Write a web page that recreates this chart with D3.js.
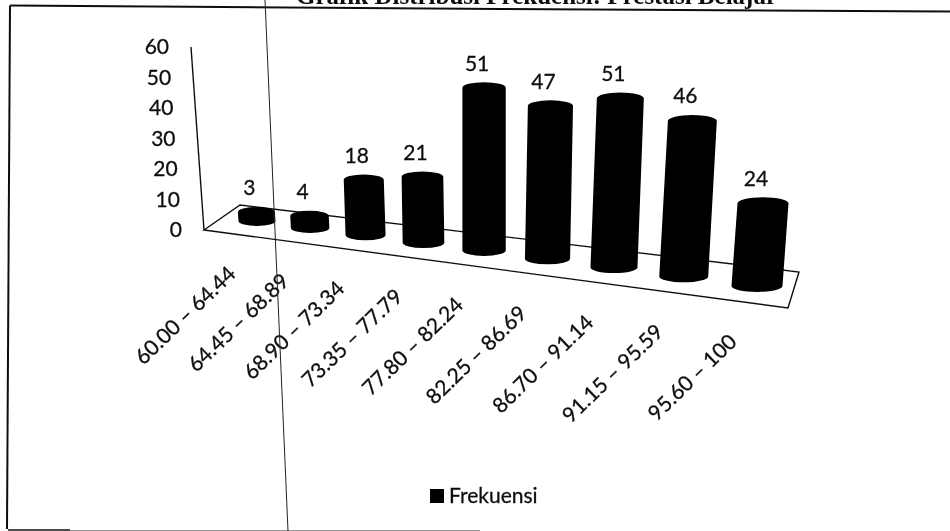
<!DOCTYPE html>
<html>
<head>
<meta charset="utf-8">
<script src="https://cdn.jsdelivr.net/npm/d3@7"></script>
<style>
  html, body { margin: 0; padding: 0; background: #fff; }
  svg { display: block; }
  text { font-family: Lato, "Open Sans", sans-serif; fill: #111; stroke: #111; stroke-width: 0.3px; }
</style>
</head>
<body>
<div id="chart"></div>
<script>
const categories = ["60.00 – 64.44", "64.45 – 68.89", "68.90 – 73.34", "73.35 – 77.79", "77.80 – 82.24",
  "82.25 – 86.69", "86.70 – 91.14", "91.15 – 95.59", "95.60 – 100"];
const frekuensi = [3, 4, 18, 21, 51, 47, 51, 46, 24];
const yTicks = [0, 10, 20, 30, 40, 50, 60];
const seriesName = "Frekuensi";
const titleText = "Grafik Distribusi Frekuensi: Prestasi Belajar";

const width = 950;
const height = 531;

const svg = d3.select("#chart").append("svg")
  .attr("width", width)
  .attr("height", height)
  .attr("viewBox", [0, 0, width, height]);

/* soft edge of the scan */
svg.append("filter").attr("id", "scan")
  .append("feGaussianBlur").attr("stdDeviation", 0.35);

const page = svg.append("g").attr("filter", "url(#scan)");

/* the chart is a tilted 3D one, so every scale below is a piece of the projection */
const depth = i => i / (1 - 0.021 * i);
const xScale = d3.scaleLinear().domain([depth(0), depth(8)]).range([257, 757]);
const baseX = i => xScale(depth(i));
const bottomY = d3.scaleLinear().domain([257, 757]).range([226, 292]);
const rxScale = d3.scaleLinear().domain([257, 757]).range([18.5, 25.5]);
const ryScale = d3.scaleLinear().domain([257, 757]).range([5, 6]);
const unitScale = d3.scaleLinear().domain([257, 757]).range([2.98, 3.45]);
const leanScale = d3.scaleLinear().domain([0, 4, 8]).range([-0.2, 0, 0.25]);

const yAxisY = d3.scaleLinear().domain([0, 60]).range([230, 47]);
const yAxisX = d3.scaleLinear().domain([0, 60]).range([204, 191]);
const yLabelX = d3.scaleLinear().domain([0, 60]).range([182, 169]);

/* page furniture of the scan */
const lines = page.append("g").attr("fill", "none").attr("stroke", "#111");
lines.append("path").attr("d", "M10,5.5L500,9L950,11.5").attr("stroke-width", 2);
lines.append("path").attr("d", "M10,5.5L7,529").attr("stroke-width", 2);
lines.append("path").attr("d", "M8,530L70,530").attr("stroke-width", 1.6);
lines.append("path").attr("d", "M70,530.5L480,530.5").attr("stroke", "#999").attr("stroke-width", 1);

page.append("text")
  .attr("x", 777)
  .attr("y", 4)
  .attr("text-anchor", "end")
  .style("font-family", "'Liberation Serif', serif")
  .style("font-weight", "bold")
  .style("font-size", "25px")
  .style("stroke-width", 0)
  .text(titleText);

/* floor */
page.append("path")
  .attr("d", "M204,230L240,205L799,272L788,308Z")
  .attr("fill", "none")
  .attr("stroke", "#111")
  .attr("stroke-width", 1.4);

/* y axis */
page.append("line")
  .attr("x1", yAxisX(0)).attr("y1", yAxisY(0))
  .attr("x2", yAxisX(60)).attr("y2", yAxisY(60))
  .attr("stroke", "#111")
  .attr("stroke-width", 1.4);

page.selectAll(".y-label")
  .data(yTicks)
  .join("text")
    .attr("class", "y-label")
    .attr("x", d => yLabelX(d))
    .attr("y", d => yAxisY(d))
    .attr("dy", "0.35em")
    .attr("text-anchor", "end")
    .style("font-size", "21px")
    .text(d => d);

/* cylinders */
const bars = frekuensi.map((v, i) => {
  const cx = baseX(i);
  const rx = rxScale(cx);
  const ry = ryScale(cx);
  const by = bottomY(cx) - ry;
  const h = v * unitScale(cx);
  const tx = cx + v * leanScale(i);
  const ty = by - h;
  return { v, i, cx, rx, ry, by, tx, ty };
});

page.selectAll(".bar")
  .data(bars)
  .join("path")
    .attr("class", "bar")
    .attr("fill", "#000")
    .attr("d", d => `M${d.cx - d.rx},${d.by}`
      + `A${d.rx},${d.ry} 0 0 0 ${d.cx + d.rx},${d.by}`
      + `L${d.tx + d.rx},${d.ty}`
      + `A${d.rx},${d.ry} 0 0 0 ${d.tx - d.rx},${d.ty}Z`);

page.selectAll(".value-label")
  .data(bars)
  .join("text")
    .attr("class", "value-label")
    .attr("x", d => d.tx - 7)
    .attr("y", d => d.ty - d.ry - 19)
    .attr("dy", "0.35em")
    .attr("text-anchor", "middle")
    .style("font-size", "21px")
    .text(d => d.v);

/* category labels hang off the front edge, rotated */
page.selectAll(".x-label")
  .data(categories)
  .join("text")
    .attr("class", "x-label")
    .attr("transform", (d, i) => {
      const x = baseX(i);
      return `translate(${x - 25 + i * 0.1},${bottomY(x) + 44 + i * 0.25}) rotate(-44)`;
    })
    .attr("dy", "0.35em")
    .attr("text-anchor", "end")
    .style("font-size", "21px")
    .text(d => d);

/* legend */
page.append("rect")
  .attr("x", 430).attr("y", 489)
  .attr("width", 14).attr("height", 14)
  .attr("fill", "#000");

page.append("text")
  .attr("x", 449)
  .attr("y", 503)
  .style("font-size", "21px")
  .text(seriesName);

/* scanner line runs over everything */
page.append("line")
  .attr("x1", 265).attr("y1", 0)
  .attr("x2", 288).attr("y2", height)
  .attr("stroke", "#222")
  .attr("stroke-width", 1);
</script>
</body>
</html>
